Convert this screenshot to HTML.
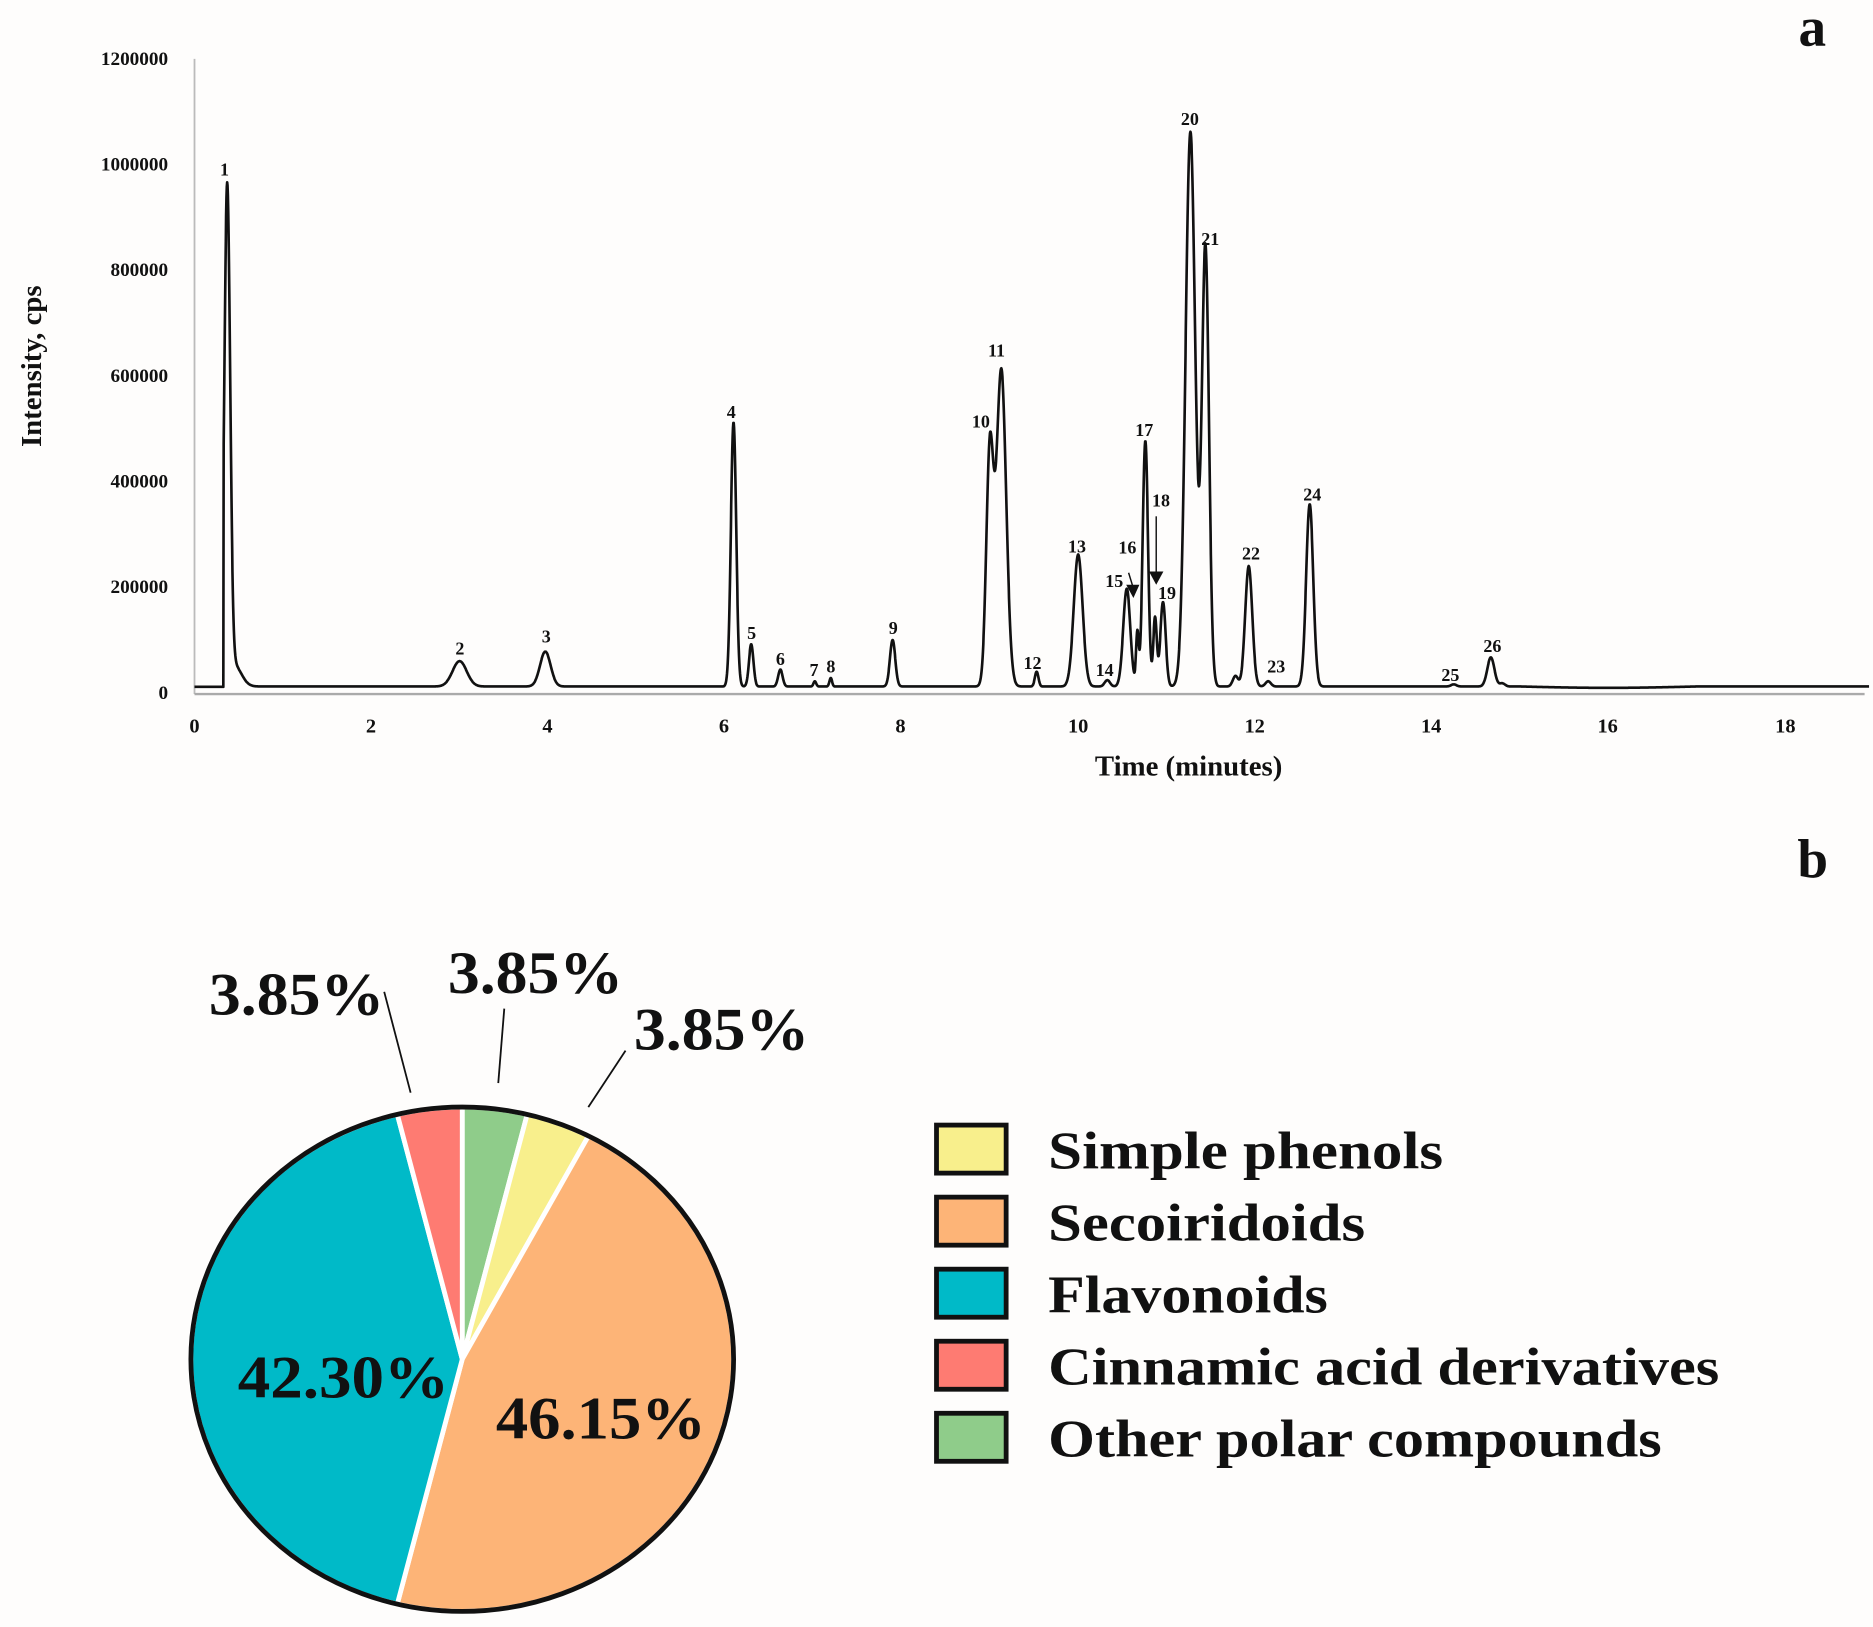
<!DOCTYPE html>
<html><head><meta charset="utf-8"><style>
html,body{margin:0;padding:0;background:#fefdfc;}
svg{display:block;}
text{font-family:"Liberation Serif",serif;font-weight:bold;fill:#111;}
</style></head><body>
<svg id="s" width="1873" height="1627" viewBox="0 0 1560 1355" preserveAspectRatio="none" xmlns="http://www.w3.org/2000/svg">
<rect width="1560" height="1355" fill="#fefdfc"/>
<text x="1498" y="38" font-size="46">a</text>
<text x="1497" y="731" font-size="46">b</text>
<line x1="162" y1="49" x2="162" y2="578" stroke="#bbb" stroke-width="1.5"/>
<line x1="162" y1="578" x2="1553" y2="578" stroke="#aaa" stroke-width="2"/>
<g font-size="16" text-anchor="end">
<text x="140" y="582">0</text><text x="140" y="494">200000</text><text x="140" y="406">400000</text>
<text x="140" y="318">600000</text><text x="140" y="230">800000</text><text x="140" y="142">1000000</text><text x="140" y="54">1200000</text>
</g>
<g font-size="17" text-anchor="middle">
<text x="162" y="610">0</text><text x="309" y="610">2</text><text x="456" y="610">4</text><text x="603" y="610">6</text>
<text x="750" y="610">8</text><text x="898" y="610">10</text><text x="1045" y="610">12</text><text x="1192" y="610">14</text>
<text x="1339" y="610">16</text><text x="1487" y="610">18</text>
</g>
<text x="990" y="646" font-size="24" text-anchor="middle">Time (minutes)</text>
<text transform="translate(34,305) rotate(-90)" font-size="24" text-anchor="middle">Intensity, cps</text>
<path id="chrom" fill="none" stroke="#111" stroke-width="2.2" stroke-linejoin="round"/>
<g font-size="15" text-anchor="middle">
<text x="187" y="146">1</text><text x="383" y="545">2</text><text x="455" y="535">3</text><text x="609" y="348">4</text>
<text x="626" y="532">5</text><text x="650" y="554">6</text><text x="678" y="563">7</text><text x="692" y="560">8</text>
<text x="744" y="528">9</text><text x="817" y="356">10</text><text x="830" y="297">11</text><text x="860" y="557">12</text>
<text x="897" y="460">13</text><text x="920" y="563">14</text><text x="928" y="489">15</text><text x="939" y="461">16</text>
<text x="953" y="363">17</text><text x="967" y="422">18</text><text x="972" y="499">19</text><text x="991" y="104">20</text>
<text x="1008" y="204">21</text><text x="1042" y="466">22</text><text x="1063" y="560">23</text><text x="1093" y="417">24</text>
<text x="1208" y="567">25</text><text x="1243" y="543">26</text>
</g>
<line x1="940" y1="477" x2="944" y2="490" stroke="#111" stroke-width="1.2"/>
<polygon points="938,487 949,487 944,498" fill="#111"/>
<line x1="963" y1="430" x2="963" y2="478" stroke="#111" stroke-width="1.2"/>
<polygon points="957,476 969,476 963,487" fill="#111"/>
<g id="pie"></g>
<ellipse cx="385" cy="1132" rx="226" ry="210" fill="none" stroke="#111" stroke-width="4"/>
<g font-size="50">
<text x="174" y="845" textLength="146" lengthAdjust="spacingAndGlyphs">3.85%</text>
<text x="373" y="827" textLength="146" lengthAdjust="spacingAndGlyphs">3.85%</text>
<text x="528" y="874" textLength="146" lengthAdjust="spacingAndGlyphs">3.85%</text>
<text x="198" y="1164" textLength="176" lengthAdjust="spacingAndGlyphs">42.30%</text>
<text x="413" y="1198" textLength="175" lengthAdjust="spacingAndGlyphs">46.15%</text>
</g>
<g stroke="#111" stroke-width="1.5">
<line x1="320" y1="826" x2="342" y2="910"/><line x1="420" y1="840" x2="415" y2="902"/><line x1="521" y1="875" x2="490" y2="922"/>
</g>
<g stroke="#111" stroke-width="4">
<rect x="780" y="937" width="58" height="40" fill="#f8ef8c"/>
<rect x="780" y="997" width="58" height="40" fill="#fdb477"/>
<rect x="780" y="1057" width="58" height="40" fill="#00bac8"/>
<rect x="780" y="1117" width="58" height="40" fill="#fe7b72"/>
<rect x="780" y="1177" width="58" height="40" fill="#8fcc8a"/>
</g>
<g font-size="44">
<text x="873" y="973" textLength="329" lengthAdjust="spacingAndGlyphs">Simple phenols</text>
<text x="873" y="1033" textLength="264" lengthAdjust="spacingAndGlyphs">Secoiridoids</text>
<text x="873" y="1093" textLength="233" lengthAdjust="spacingAndGlyphs">Flavonoids</text>
<text x="873" y="1153" textLength="559" lengthAdjust="spacingAndGlyphs">Cinnamic acid derivatives</text>
<text x="873" y="1213" textLength="511" lengthAdjust="spacingAndGlyphs">Other polar compounds</text>
</g>
</svg>
<script>
var P=[[0.37,930000,0.033],[0.45,40000,0.08],[3.0,48000,0.08],[3.97,66000,0.06],[6.1,500000,0.03],[6.3,80000,0.025],[6.63,32000,0.025],
[7.02,10000,0.015],[7.2,16000,0.015],[7.9,88000,0.03],[9.0,440000,0.04],[9.13,600000,0.055],[9.53,28000,0.02],[10.0,250000,0.05],
[10.33,12000,0.03],[10.55,185000,0.04],[10.67,100000,0.015],[10.76,465000,0.03],[10.87,130000,0.02],[10.96,160000,0.03],
[11.27,1050000,0.055],[11.44,830000,0.04],[11.78,20000,0.03],[11.93,228000,0.04],[12.15,10000,0.03],[12.62,345000,0.04],[14.25,4000,0.03],[14.67,55000,0.04],[14.8,6000,0.03]];
var d="";
for(var t=0.33;t<=18.95;t+=0.004){var v=12000;
 for(var i=0;i<P.length;i++){var z=(t-P[i][0])/P[i][2];if(Math.abs(z)<8)v+=P[i][1]*Math.exp(-0.5*z*z);}
 if(t>15.0&&t<17)v-=2500*Math.sin((t-15)/2*Math.PI);
 var x=162+t*73.6,y=577-v*88/200000;d+="L"+x.toFixed(1)+" "+y.toFixed(1);}
document.getElementById("chrom").setAttribute("d","M162 572L186 572"+d);
var cx=385,cy=1132,rx=226,ry=210,f=[[0.0385,"#8fcc8a"],[0.0385,"#f8ef8c"],[0.4615,"#fdb477"],[0.423,"#00bac8"],[0.0385,"#fe7b72"]];
var a=0,g="";function pt(a){return (cx+rx*Math.sin(a*2*Math.PI)).toFixed(1)+" "+(cy-ry*Math.cos(a*2*Math.PI)).toFixed(1);}
f.forEach(function(s){var b=a+s[0];g+='<path d="M'+cx+' '+cy+'L'+pt(a)+'A'+rx+' '+ry+' 0 '+(s[0]>0.5?1:0)+' 1 '+pt(b)+'Z" fill="'+s[1]+'" stroke="#fff" stroke-width="4"/>';a=b;});
document.getElementById("pie").innerHTML=g;
</script>
</body></html>
